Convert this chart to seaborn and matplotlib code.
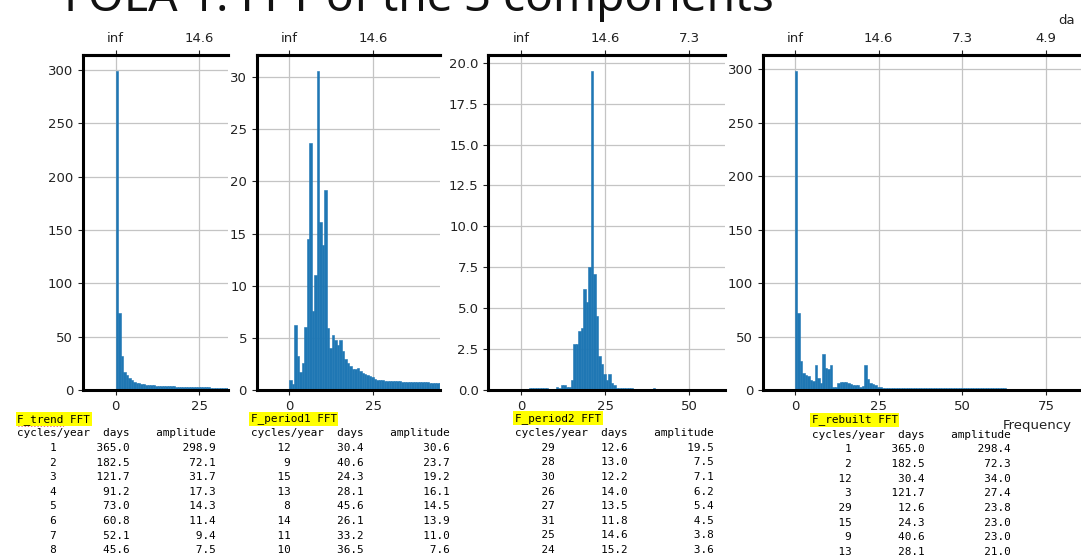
import numpy as np
import pandas as pd
import matplotlib
matplotlib.use("Agg")
import matplotlib.pyplot as plt
from matplotlib.ticker import MultipleLocator, FuncFormatter, FixedLocator
from matplotlib.lines import Line2D
import seaborn as sns

sns.set_style("ticks")
plt.rcParams["font.family"] = ["DejaVu Sans"]

# ---------------- data ----------------
FREQ_STEP = 0.74  # cycles/year per FFT bin

trend_amp = [298.9, 72.1, 31.7, 17.3, 14.3, 11.4, 9.4, 7.5, 6.9, 6.3,
             5.6, 5.3, 5.0, 4.7, 4.5, 4.3, 4.1, 4.0, 3.9, 3.8,
             3.6, 3.5, 3.4, 3.3, 3.1, 3.0, 3.0, 2.9, 2.9, 2.8,
             2.7, 2.7, 2.6, 2.6, 2.5, 2.5, 2.4, 2.4, 2.3, 2.2,
             2.2, 2.1, 2.1, 2.0, 1.9, 1.9]

period1_amp = [1.0, 0.6, 6.2, 3.3, 1.7, 2.6, 6.0, 14.5, 23.7, 7.6,
               11.0, 30.6, 16.1, 13.9, 19.2, 5.9, 4.0, 5.3, 4.8, 4.3,
               4.8, 3.7, 3.0, 2.6, 2.3, 2.0, 2.0, 2.1, 1.8, 1.6,
               1.5, 1.4, 1.3, 1.2, 1.1, 1.0, 0.95, 0.95, 0.9, 0.9,
               0.87, 0.87, 0.85, 0.85, 0.82, 0.8, 0.8, 0.8, 0.78, 0.77,
               0.76, 0.75, 0.75, 0.74, 0.73, 0.72, 0.71, 0.7, 0.7, 0.7,
               0.7]

period2_amp = [0.02, 0.02, 0.03, 0.12, 0.14, 0.15, 0.15, 0.14, 0.13, 0.12,
               0.1, 0.08, 0.05, 0.08, 0.16, 0.12, 0.3, 0.3, 0.2, 0.2,
               0.6, 2.8, 2.8, 3.6, 3.8, 6.2, 5.4, 7.5, 19.5, 7.1,
               4.5, 2.1, 1.6, 1.0, 0.6, 1.0, 0.4, 0.3, 0.15, 0.15,
               0.15, 0.15, 0.15, 0.15, 0.15, 0.06, 0.06, 0.06, 0.06, 0.06,
               0.06, 0.06, 0.06, 0.15, 0.02, 0.02, 0.02, 0.02, 0.02, 0.02,
               0.02, 0.02, 0.02, 0.02, 0.02, 0.02, 0.02, 0.02, 0.02, 0.02,
               0.02, 0.02, 0.02, 0.02, 0.02, 0.02, 0.02, 0.02, 0.02, 0.02,
               0.02, 0.02]

rebuilt_amp = [298.4, 72.3, 27.4, 16.3, 14.1, 13.2, 9.4, 8.5, 23.0, 11.4,
               6.5, 34.0, 21.0, 19.4, 23.0, 3.1, 2.5, 6.3, 7.2, 7.5,
               7.8, 6.9, 5.6, 5.0, 4.4, 4.7, 2.5, 4.0, 23.8, 10.0,
               6.3, 5.3, 4.4, 3.1, 2.5, 2.3, 2.2, 2.2, 2.2, 2.2,
               2.2, 2.2, 2.2, 2.2, 2.2, 2.2, 2.2, 2.2, 2.2, 2.2,
               1.7, 1.7, 1.7, 1.7, 1.7, 1.7, 1.7, 1.7, 1.7, 1.7,
               1.7, 1.7, 1.7, 1.7, 1.7, 1.7, 1.7, 1.7, 1.7, 1.7,
               1.7, 1.7, 1.7, 1.7, 1.7, 1.7, 1.7, 1.7, 1.7, 1.7,
               1.7, 1.7, 1.7, 1.7, 1.7]

# tables
trend_cycles = [1, 2, 3, 4, 5, 6, 7, 8]
trend_days = [365.0, 182.5, 121.7, 91.2, 73.0, 60.8, 52.1, 45.6]
trend_top = [298.9, 72.1, 31.7, 17.3, 14.3, 11.4, 9.4, 7.5]

period1_cycles = [12, 9, 15, 13, 8, 14, 11, 10]
period1_days = [30.4, 40.6, 24.3, 28.1, 45.6, 26.1, 33.2, 36.5]
period1_top = [30.6, 23.7, 19.2, 16.1, 14.5, 13.9, 11.0, 7.6]

period2_cycles = [29, 28, 30, 26, 27, 31, 25, 24]
period2_days = [12.6, 13.0, 12.2, 14.0, 13.5, 11.8, 14.6, 15.2]
period2_top = [19.5, 7.5, 7.1, 6.2, 5.4, 4.5, 3.8, 3.6]

rebuilt_cycles = [1, 2, 12, 3, 29, 15, 9, 13]
rebuilt_days = [365.0, 182.5, 30.4, 121.7, 12.6, 24.3, 40.6, 28.1]
rebuilt_top = [298.4, 72.3, 34.0, 27.4, 23.8, 23.0, 23.0, 21.0]

table_titles = ["F_trend FFT", "F_period1 FFT", "F_period2 FFT", "F_rebuilt FFT"]
title_text = "FOLA 1: FFT of the 3 components"

# ---------------- layout ----------------
W, H = 1081, 557
fig = plt.figure(figsize=(W / 100, H / 100), dpi=100)
fig.patch.set_facecolor("white")

BAR_COLOR = "#1f77b4"
TICK_FS = 9.5
TXT = "#222222"


def axes_px(left, right, top, bottom):
    return fig.add_axes([left / W, 1 - bottom / H, (right - left) / W, (bottom - top) / H])


def days_fmt(v, pos):
    if abs(v) < 1e-9:
        return "inf"
    return f"{365 / v:.1f}"


panels = [
    (trend_amp, (83, 228), (-9.8, 33.6), 50, "{x:.0f}"),
    (period1_amp, (256.7, 440), (-9.7, 44.8), 5, "{x:.0f}"),
    (period2_amp, (488.3, 725), (-9.75, 60.7), 2.5, "{x:.1f}"),
    (rebuilt_amp, (763, 1081), (-9.55, 85.4), 50, "{x:.0f}"),
]

for amp, (lpx, rpx), xlim, ystep, yfmt in panels:
    ax = axes_px(lpx, rpx, 55, 390)
    n = len(amp)
    df = pd.DataFrame({"freq": (np.arange(n) + 0.5) * FREQ_STEP,
                       "amp": np.asarray(amp, float)})
    sns.histplot(data=df, x="freq", weights="amp", binwidth=FREQ_STEP,
                 binrange=(0, n * FREQ_STEP), ax=ax, color=BAR_COLOR,
                 alpha=1, edgecolor=BAR_COLOR, linewidth=0.4)
    ax.set_xlim(*xlim)
    ax.set_ylim(0, max(amp) * 1.05)
    ax.set_xlabel("")
    ax.set_ylabel("")
    xt = [v for v in range(0, 200, 25) if xlim[0] <= v <= xlim[1] - 1]
    ax.xaxis.set_major_locator(FixedLocator(xt))
    ax.yaxis.set_major_locator(MultipleLocator(ystep))
    ax.yaxis.set_major_formatter(yfmt)
    ax.grid(True, color="#c4c4c4", linewidth=0.9)
    ax.set_axisbelow(True)
    for s in ("left", "top", "bottom"):
        ax.spines[s].set_linewidth(2.2)
        ax.spines[s].set_color("black")
    ax.spines["right"].set_visible(False)
    ax.tick_params(labelsize=TICK_FS, length=3.5, width=0.8, colors=TXT)
    sec = ax.secondary_xaxis("top")
    sec.xaxis.set_major_locator(FixedLocator(xt))
    sec.xaxis.set_major_formatter(FuncFormatter(days_fmt))
    sec.tick_params(labelsize=TICK_FS, length=3.5, width=0.8, colors=TXT)
    sec.spines["top"].set_linewidth(2.2)

# axis label fragments visible at the right edge
fig.text(1003 / W, 1 - 425 / H, "Frequency", fontsize=TICK_FS, ha="left", va="center", color=TXT)
fig.text(1058 / W, 1 - 20 / H, "da", fontsize=TICK_FS, ha="left", va="center", color=TXT)

# title (cut at the top, as in the source slide)
t = fig.text(64 / W, 1 - 11 / H, title_text, fontsize=36, ha="left", va="baseline",
             color="#111111", family=["Noto Sans", "DejaVu Sans"])
fig.canvas.draw()
w = t.get_window_extent().width
t.set_fontsize(36 * 710 / w)

# tables
MONO = ["DejaVu Sans Mono"]
MFS = 7.9
tables = [
    (table_titles[0], trend_cycles, trend_days, trend_top, 17.3, 419.3, 433.5, 448.0, (17.3, 64)),
    (table_titles[1], period1_cycles, period1_days, period1_top, 250.7, 419.0, 433.5, 448.0, None),
    (table_titles[2], period2_cycles, period2_days, period2_top, 515.0, 418.3, 433.3, 447.8, None),
    (table_titles[3], rebuilt_cycles, rebuilt_days, rebuilt_top, 811.7, 420.0, 435.0, 449.5, (811.7, 871.8)),
]
ROW = 14.6
for title, cyc, days, amps, x0, ty, hy, ry0, squig in tables:
    fig.text(x0 / W, 1 - ty / H, title, family=MONO, fontsize=MFS, ha="left", va="center",
             color="black", bbox=dict(boxstyle="square,pad=0.15", facecolor="#ffff00", edgecolor="none"))
    fig.text(x0 / W, 1 - hy / H, "cycles/year  days    amplitude", family=MONO, fontsize=MFS,
             ha="left", va="center", color="black")
    for i, (c, d, a) in enumerate(zip(cyc, days, amps)):
        line = f"{c:>6}{d:>11.1f}{a:>13.1f}"
        fig.text(x0 / W, 1 - (ry0 + i * ROW) / H, line, family=MONO, fontsize=MFS,
                 ha="left", va="center", color="black")
    if squig is not None:
        xs = np.arange(squig[0], squig[1], 1.6)
        ys = 425.5 + np.where(np.arange(len(xs)) % 2 == 0, -0.8, 0.8)
        fig.add_artist(Line2D(xs / W, 1 - ys / H, transform=fig.transFigure,
                              color="#e03030", linewidth=0.7))

fig.savefig("out.png", dpi=100, facecolor="white")
